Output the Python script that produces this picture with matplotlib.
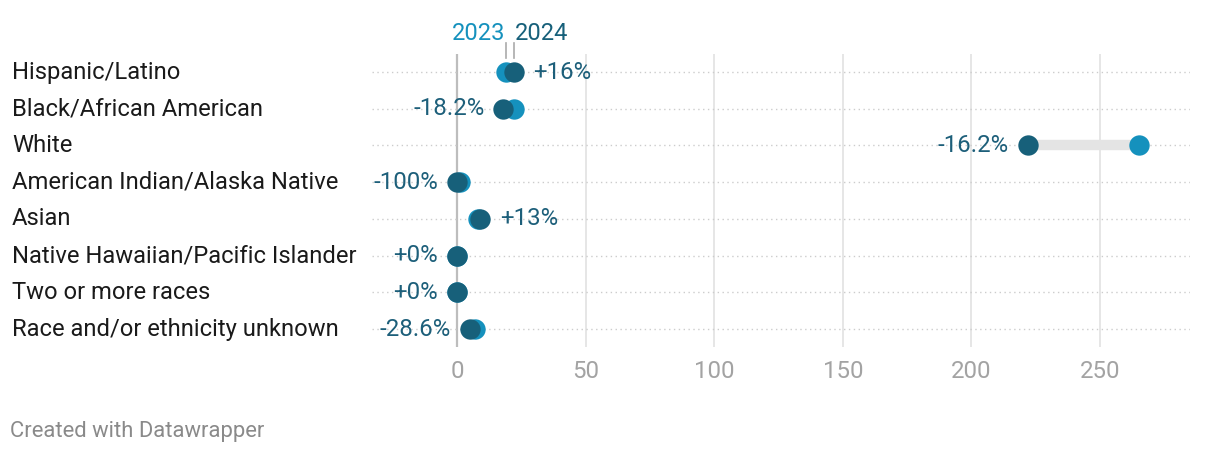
import numpy as np
import matplotlib
matplotlib.use("Agg")
from matplotlib import pyplot as plt
from matplotlib.transforms import blended_transform_factory

categories = ["Hispanic/Latino", "Black/African American", "White",
              "American Indian/Alaska Native", "Asian",
              "Native Hawaiian/Pacific Islander", "Two or more races",
              "Race and/or ethnicity unknown"]
values_2023 = [19, 22, 265, 1, 8, 0, 0, 7]
values_2024 = [22, 18, 222, 0, 9, 0, 0, 5]
change_labels = ["+16%", "-18.2%", "-16.2%", "-100%", "+13%", "+0%", "+0%", "-28.6%"]
xticks = [0, 50, 100, 150, 200, 250]

c2023 = "#1591bd"
c2024 = "#17607a"
txt = "#1d5f7a"

plt.rcParams['font.family'] = ['Roboto', 'DejaVu Sans']

fig = plt.figure(figsize=(12.2, 4.58), dpi=100)
ax = fig.add_axes([372/1220, 1 - 347.4/458, 818/1220, 293.7/458])
ax.set_xlim(-33.05, 285.0)
ax.set_ylim(7.5, -0.5)

for s in ax.spines.values():
    s.set_visible(False)

# grid
for t in xticks:
    ax.axvline(t, color="#bdbdbd" if t == 0 else "#e2e2e2", lw=1.6 if t == 0 else 1.2, zorder=0)
ypos = np.arange(len(categories))
for y in ypos:
    ax.axhline(y, color="#cccccc", lw=1, ls=(0, (1, 2.5)), zorder=0)

# connecting bars
for y, a, b in zip(ypos, values_2023, values_2024):
    ax.plot([a, b], [y, y], color="#e4e4e4", lw=7.5, solid_capstyle="butt", zorder=1)

ax.scatter(values_2023, ypos, s=215, color=c2023, zorder=2, linewidths=0)
ax.scatter(values_2024, ypos, s=215, color=c2024, zorder=3, linewidths=0)

# change labels
for y, a, b, lab in zip(ypos, values_2023, values_2024, change_labels):
    if b > a:
        ax.annotate(lab, (max(a, b), y), xytext=(20, 0), textcoords="offset pixels",
                    ha="left", va="center", fontsize=17.3, color=txt)
    else:
        ax.annotate(lab, (min(a, b), y), xytext=(-19, 0), textcoords="offset pixels",
                    ha="right", va="center", fontsize=17.3, color=txt)

# category labels
tr = blended_transform_factory(fig.transFigure, ax.transData)
for y, cat in zip(ypos, categories):
    ax.text(12/1220, y, cat, transform=tr, ha="left", va="center",
            fontsize=17.1, color="#1a1a1a")

ax.set_yticks([])
ax.set_xticks(xticks)
ax.tick_params(axis="x", length=0, pad=9, labelsize=17.3, labelcolor="#a3a3a3")

# legend labels above first row
trl = blended_transform_factory(ax.transData, fig.transFigure)
ax.text(values_2023[0] - 0.4, 1 - 33/458, "2023", transform=trl, ha="right", va="center",
        fontsize=17, color=c2023)
ax.text(values_2024[0] + 0.4, 1 - 33/458, "2024", transform=trl, ha="left", va="center",
        fontsize=17, color=c2024)
for v in [values_2023[0], values_2024[0]]:
    ax.plot([v, v], [1 - 43/458, 1 - 58/458], transform=trl, color="#aaaaaa",
            lw=1.2, clip_on=False)

fig.text(10/1220, 1 - 432/458, "Created with Datawrapper", ha="left", va="center",
         fontsize=15.8, color="#8a8a8a")

fig.savefig("out.png", dpi=100)
